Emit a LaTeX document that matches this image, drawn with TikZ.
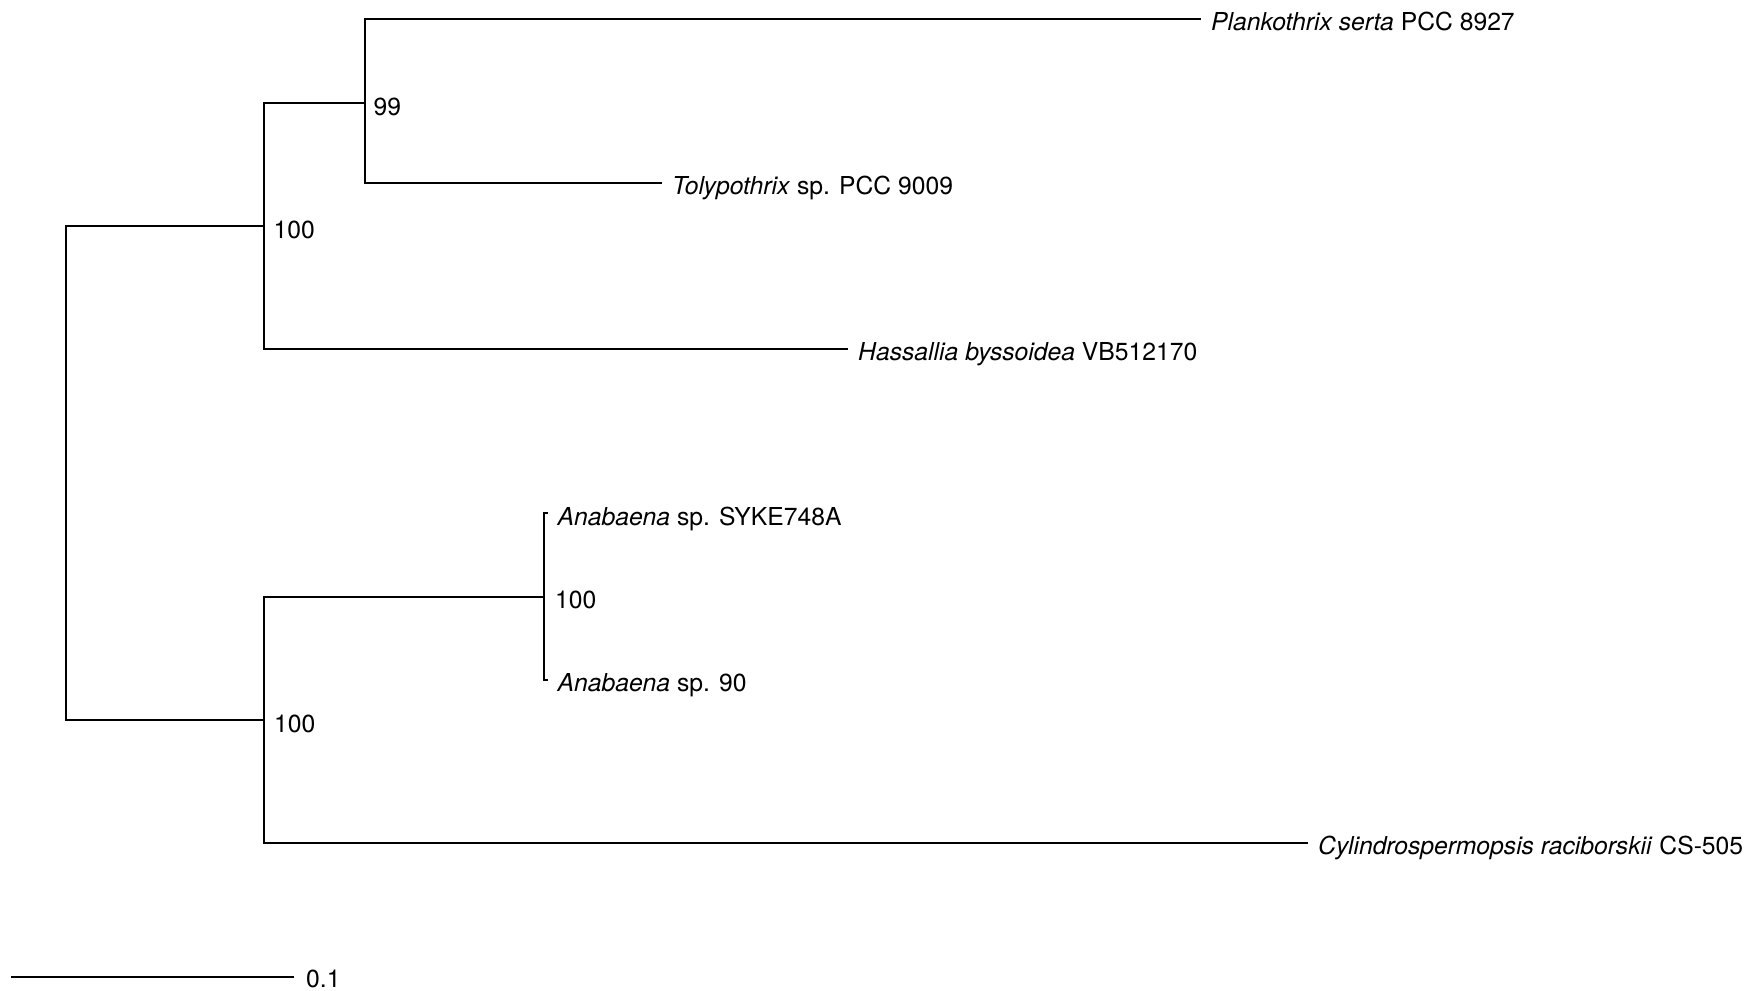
\documentclass[tikz,border=0pt]{standalone}
\usepackage{fontspec}
\setmainfont{TeX Gyre Heros}
\usetikzlibrary{calc}
\begin{document}
\begin{tikzpicture}[x=1pt,y=-1pt,
  branch/.style={line width=2pt, line cap=rect},
  tiplabel/.style={anchor=base west, inner sep=0pt, font=\fontsize{24.7}{29}\selectfont},
  support/.style={anchor=base west, inner sep=0pt, font=\fontsize{24.7}{29}\selectfont}]
\useasboundingbox (0,0) rectangle (1749,991);
% internal nodes
\coordinate (root) at (66,472.9);
\coordinate (U) at (264,226);
\coordinate (N99) at (365,103);
\coordinate (L) at (264,719.8);
\coordinate (A) at (544.4,596.7);
% tips
\coordinate (tPlank) at (1200,19.3);
\coordinate (tToly) at (661,183);
\coordinate (tHass) at (847,349.3);
\coordinate (tSyke) at (547.4,513);
\coordinate (tAna) at (547.4,679.5);
\coordinate (tCyl) at (1307,842.5);
% branches
\draw[branch] (root) |- (U);
\draw[branch] (root) |- (L);
\draw[branch] (U) |- (N99);
\draw[branch] (U) |- (tHass);
\draw[branch] (N99) |- (tPlank);
\draw[branch] (N99) |- (tToly);
\draw[branch] (L) |- (A);
\draw[branch] (L) |- (tCyl);
\draw[branch] (A) |- (tSyke);
\draw[branch] (A) |- (tAna);
% tip labels
\node[tiplabel] (lPlank) at ($(tPlank)+(11,11.5)$) {\textit{Plankothrix serta} PCC 8927};
\node[tiplabel] (lToly) at ($(tToly)+(11,11.5)$) {\textit{Tolypothrix} sp. PCC 9009};
\node[tiplabel] (lHass) at ($(tHass)+(11,11.5)$) {\textit{Hassallia byssoidea} VB512170};
\node[tiplabel] (lSyke) at ($(tSyke)+(10,12)$) {\textit{Anabaena} sp. SYKE748A};
\node[tiplabel] (lAna) at ($(tAna)+(10,12)$) {\textit{Anabaena} sp. 90};
\node[tiplabel] (lCyl) at ($(tCyl)+(11,11.5)$) {\textit{Cylindrospermopsis raciborskii} CS-505};
% support values
\node[support] (s99) at ($(N99)+(8.5,12)$) {99};
\node[support] (sU) at ($(U)+(9.5,12)$) {100};
\node[support] (sA) at ($(A)+(10.5,12)$) {100};
\node[support] (sL) at ($(L)+(10,12.5)$) {100};
% scale bar
\coordinate (sb1) at (12.2,977.3);
\coordinate (sb2) at (293,977.3);
\draw[branch] (sb1) -- (sb2);
\node[support] (sbl) at ($(sb2)+(13,10)$) {0.1};
\end{tikzpicture}
\end{document}
